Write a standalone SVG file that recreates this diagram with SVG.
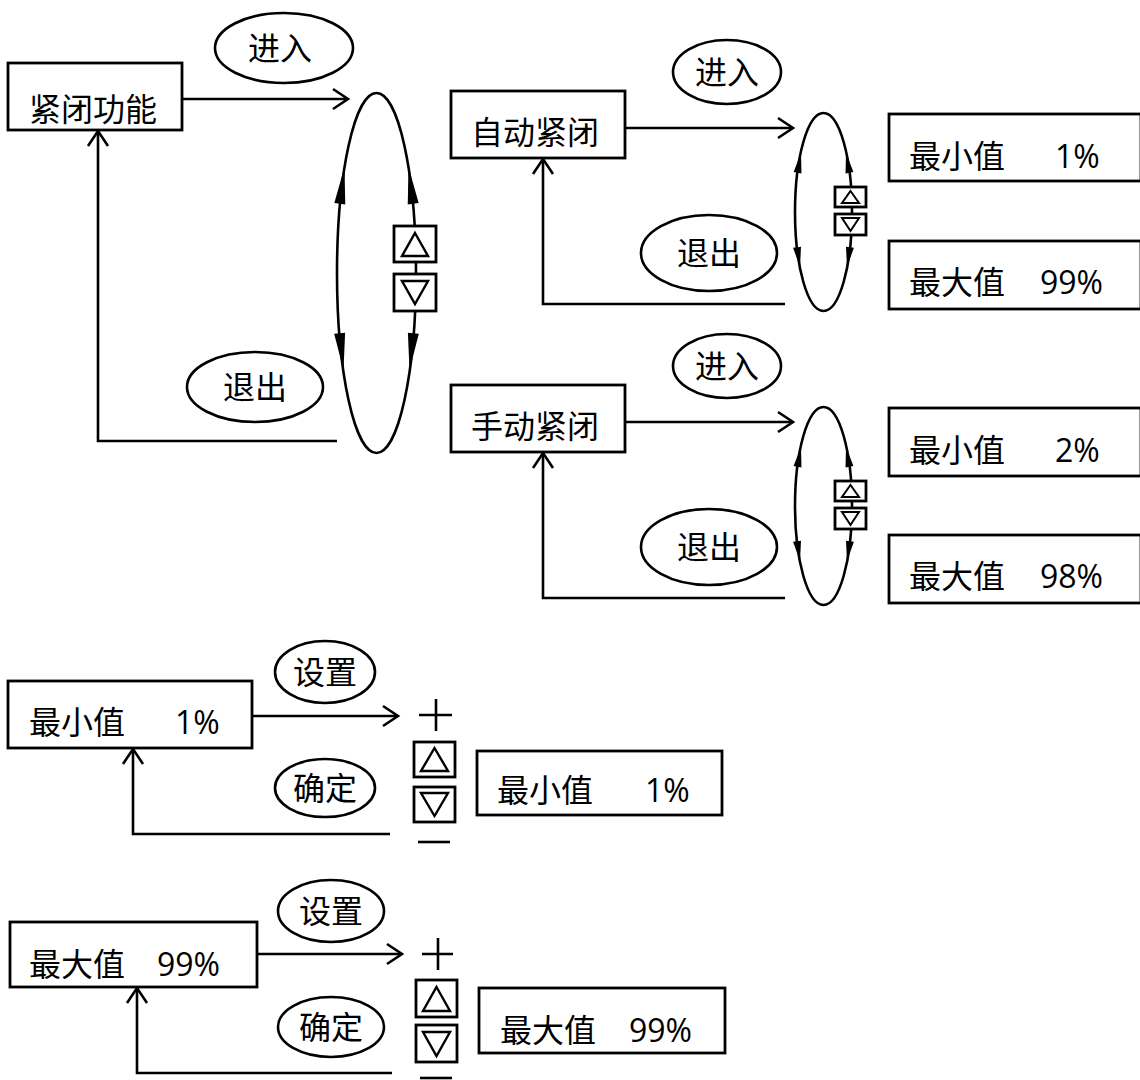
<svg xmlns="http://www.w3.org/2000/svg" width="1140" height="1080" viewBox="0 0 1140 1080">
<style>
.box{fill:#fff;stroke:#000;stroke-width:2.8}
.oval{fill:#fff;stroke:#000;stroke-width:2.6}
.ring{fill:none;stroke:#000;stroke-width:2.6}
.ln{fill:none;stroke:#000;stroke-width:2.6}
.ar{fill:none;stroke:#000;stroke-width:2.6;marker-end:url(#open)}
.tri{fill:none;stroke:#000;stroke-width:2.4;stroke-linejoin:miter}
.fa{fill:#000;stroke:none}
text{font-family:"Open Sans","Noto Sans CJK SC",sans-serif;font-size:32px;fill:#000}
.c{text-anchor:middle}
</style>
<defs>
<marker id="open" markerWidth="22" markerHeight="26" refX="18" refY="13" orient="auto" markerUnits="userSpaceOnUse">
<path d="M3,3 L18,13 L3,23" fill="none" stroke="#000" stroke-width="2.6"/>
</marker>
<path id="bigHead" d="M0,0 L-37,-5.5 L-37,5.5 Z"/>
<path id="smallHead" d="M0,0 L-20,-4 L-20,4 Z"/>
</defs>

<!-- connectors -->
<g id="connectors">
<path class="ar" d="M182,99 H348"/>
<path class="ar" d="M337,441 H98 V131"/>
<path class="ar" d="M625,128 H793"/>
<path class="ar" d="M785,304 H543 V159"/>
<path class="ar" d="M625,422 H793"/>
<path class="ar" d="M785,598 H543 V453"/>
<path class="ar" d="M252,716 H398"/>
<path class="ar" d="M390,834 H133 V749"/>
<path class="ar" d="M257,954 H402"/>
<path class="ar" d="M392,1073 H137 V988"/>
</g>

<!-- top-left main node -->
<g id="node-jinbi">
<rect class="box" x="8" y="63" width="174" height="67"/>
<text x="29" y="121">紧闭功能</text>
</g>
<g id="label-enter1">
<ellipse class="oval" cx="284" cy="48" rx="69" ry="35"/>
<text class="c" x="280" y="60">进入</text>
</g>
<g id="label-exit1">
<ellipse class="oval" cx="255" cy="387" rx="68" ry="35"/>
<text class="c" x="255" y="399">退出</text>
</g>

<!-- big loop -->
<g id="loop-big">
<ellipse class="ring" cx="376.5" cy="273" rx="39.5" ry="180"/>
<use href="#bigHead" class="fa" transform="translate(344.5,167) rotate(-82.7)"/>
<use href="#bigHead" class="fa" transform="translate(408.5,167) rotate(-97.3)"/>
<use href="#bigHead" class="fa" transform="translate(343.5,370) rotate(84)"/>
<use href="#bigHead" class="fa" transform="translate(409.5,370) rotate(96)"/>
<rect class="box" x="394" y="226" width="42" height="36"/>
<path class="tri" d="M415,233 L428,256 L402,256 Z"/>
<rect class="box" x="394" y="274" width="42" height="37"/>
<path class="tri" d="M402,281 L428,281 L415,304 Z"/>
</g>

<!-- auto close -->
<g id="node-auto">
<rect class="box" x="451" y="91" width="174" height="67"/>
<text x="471" y="144">自动紧闭</text>
</g>
<g id="label-enter2">
<ellipse class="oval" cx="727" cy="72" rx="54" ry="32"/>
<text class="c" x="727" y="84">进入</text>
</g>
<g id="label-exit2">
<ellipse class="oval" cx="709" cy="253" rx="68" ry="38"/>
<text class="c" x="709" y="265">退出</text>
</g>
<g id="loop-auto">
<ellipse class="ring" cx="823.5" cy="212" rx="28.5" ry="99"/>
<use href="#smallHead" class="fa" transform="translate(801,153) rotate(-80)"/>
<use href="#smallHead" class="fa" transform="translate(846,153) rotate(-100)"/>
<use href="#smallHead" class="fa" transform="translate(800,267) rotate(81.5)"/>
<use href="#smallHead" class="fa" transform="translate(847,267) rotate(98.5)"/>
<rect class="box" x="835" y="187" width="31" height="20"/>
<path class="tri" d="M850.5,191 L859,203 L842,203 Z" style="stroke-width:2"/>
<rect class="box" x="835" y="214" width="31" height="21"/>
<path class="tri" d="M842,218 L859,218 L850.5,231 Z" style="stroke-width:2"/>
</g>
<g id="node-auto-min">
<rect class="box" x="889" y="114" width="252" height="67"/>
<text x="909" y="168">最小值</text>
<text x="1055" y="168">1%</text>
</g>
<g id="node-auto-max">
<rect class="box" x="889" y="241" width="252" height="68"/>
<text x="909" y="294">最大值</text>
<text x="1040" y="294">99%</text>
</g>

<!-- manual close -->
<g id="node-manual">
<rect class="box" x="451" y="385" width="174" height="67"/>
<text x="471" y="438">手动紧闭</text>
</g>
<g id="label-enter3">
<ellipse class="oval" cx="727" cy="366" rx="54" ry="32"/>
<text class="c" x="727" y="378">进入</text>
</g>
<g id="label-exit3">
<ellipse class="oval" cx="709" cy="547" rx="68" ry="38"/>
<text class="c" x="709" y="559">退出</text>
</g>
<g id="loop-manual">
<ellipse class="ring" cx="823.5" cy="506" rx="28.5" ry="99"/>
<use href="#smallHead" class="fa" transform="translate(801,447) rotate(-80)"/>
<use href="#smallHead" class="fa" transform="translate(846,447) rotate(-100)"/>
<use href="#smallHead" class="fa" transform="translate(800,561) rotate(81.5)"/>
<use href="#smallHead" class="fa" transform="translate(847,561) rotate(98.5)"/>
<rect class="box" x="835" y="481" width="31" height="20"/>
<path class="tri" d="M850.5,485 L859,497 L842,497 Z" style="stroke-width:2"/>
<rect class="box" x="835" y="508" width="31" height="21"/>
<path class="tri" d="M842,512 L859,512 L850.5,525 Z" style="stroke-width:2"/>
</g>
<g id="node-manual-min">
<rect class="box" x="889" y="408" width="252" height="68"/>
<text x="909" y="462">最小值</text>
<text x="1055" y="462">2%</text>
</g>
<g id="node-manual-max">
<rect class="box" x="889" y="535" width="252" height="68"/>
<text x="909" y="588">最大值</text>
<text x="1040" y="588">98%</text>
</g>

<!-- bottom group 1 -->
<g id="node-set-min">
<rect class="box" x="8" y="681" width="244" height="67"/>
<text x="29" y="734">最小值</text>
<text x="175" y="734">1%</text>
</g>
<g id="label-set1">
<ellipse class="oval" cx="325" cy="672" rx="50" ry="31"/>
<text class="c" x="325" y="684">设置</text>
</g>
<g id="label-ok1">
<ellipse class="oval" cx="325" cy="788" rx="50" ry="29"/>
<text class="c" x="325" y="800">确定</text>
</g>
<g id="keys1">
<path class="ln" d="M419,715 H452 M436,699 V731"/>
<rect class="box" x="414" y="742" width="41" height="35"/>
<path class="tri" d="M434.5,748 L448,771 L421,771 Z"/>
<rect class="box" x="414" y="787" width="41" height="35"/>
<path class="tri" d="M421,793 L448,793 L434.5,816 Z"/>
<path class="ln" d="M418,842 H450"/>
</g>
<g id="node-min-result">
<rect class="box" x="477" y="751" width="245" height="64"/>
<text x="497" y="802">最小值</text>
<text x="645" y="802">1%</text>
</g>

<!-- bottom group 2 -->
<g id="node-set-max">
<rect class="box" x="10" y="922" width="247" height="65"/>
<text x="29" y="976">最大值</text>
<text x="157" y="976">99%</text>
</g>
<g id="label-set2">
<ellipse class="oval" cx="331" cy="911" rx="53" ry="31"/>
<text class="c" x="331" y="923">设置</text>
</g>
<g id="label-ok2">
<ellipse class="oval" cx="331" cy="1027" rx="53" ry="30"/>
<text class="c" x="331" y="1039">确定</text>
</g>
<g id="keys2">
<path class="ln" d="M422,954 H453 M438,938 V970"/>
<rect class="box" x="416" y="980" width="41" height="37"/>
<path class="tri" d="M436.5,987 L450,1011 L423,1011 Z"/>
<rect class="box" x="416" y="1025" width="41" height="37"/>
<path class="tri" d="M423,1032 L450,1032 L436.5,1056 Z"/>
<path class="ln" d="M420,1078 H452"/>
</g>
<g id="node-max-result">
<rect class="box" x="479" y="988" width="246" height="65"/>
<text x="500" y="1042">最大值</text>
<text x="629" y="1042">99%</text>
</g>
</svg>
